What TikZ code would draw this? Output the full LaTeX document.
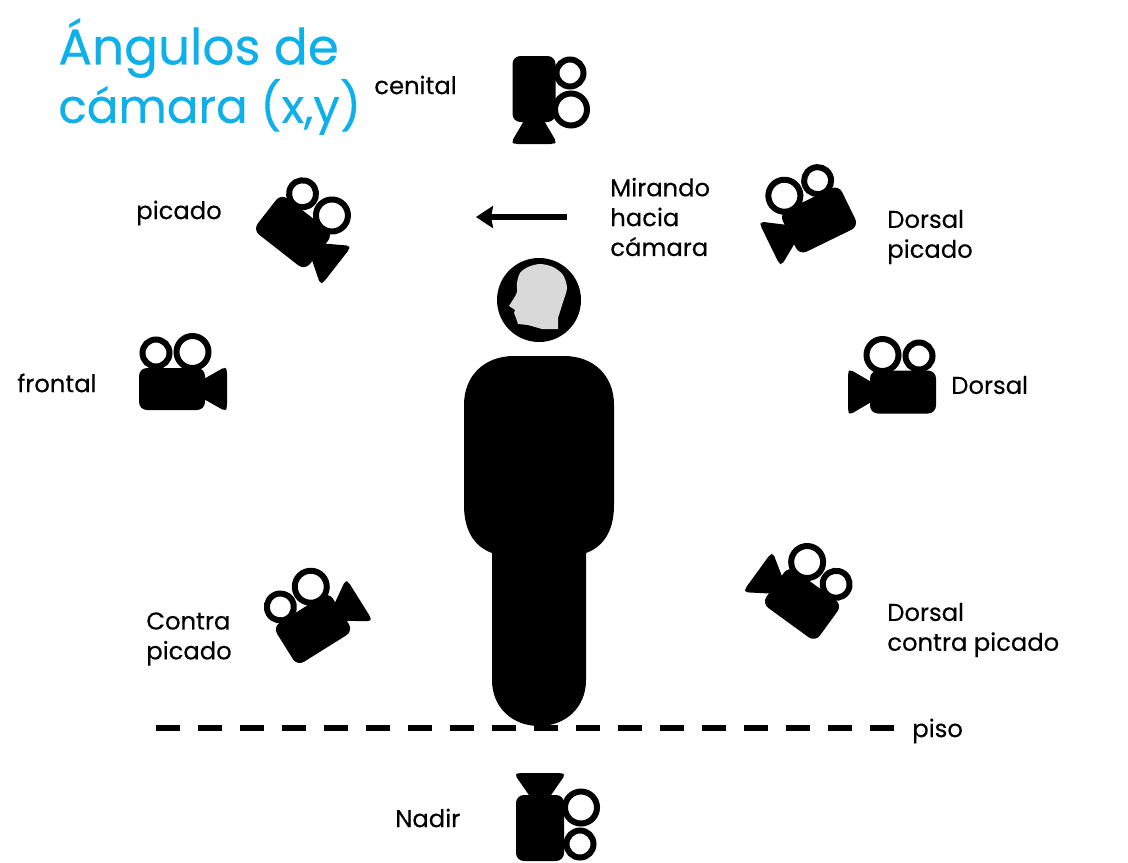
\documentclass[tikz,border=0pt]{standalone}
\usepackage{fontspec}
\setmainfont{Poppins}[FakeBold=0.3]
\usetikzlibrary{arrows.meta}

\begin{document}
\begin{tikzpicture}[
    x=0.02cm, y=-0.02cm,
    label/.style={inner sep=0pt, anchor=west, align=left, font=\fontsize{13.8}{17}\selectfont},
    heading/.style={inner sep=0pt, anchor=west, align=left, text=titleblue},
    camera/.pic={
        \draw[line width=0.12cm, fill=white] (-16,-36-\rise) circle (13.5);
        \draw[line width=0.12cm, fill=white] (20.5,-37-\rise) circle (16);
        \fill[rounded corners=0.16cm] (-33,-\hh) rectangle (33,\hh);
        \fill[rounded corners=0.06cm] (30,-9) -- (53,-\hh-1) -- (55,-\hh+2) -- (55,\hh-2) -- (53,\hh+1) -- (30,9) -- cycle;
    }
]
\definecolor{titleblue}{HTML}{0DB0E8}
\useasboundingbox (0,0) rectangle (1128,862);

% Title
\node[heading, font=\fontsize{28.5}{34}\selectfont] (title1) at (58,48) {Ángulos de};
\node[heading, font=\fontsize{26.7}{34}\selectfont] (title2) at (58,107) {cámara (x,y)};

% Person
\fill (464,405) .. controls (464,375) and (485,356) .. (514,356) -- (564,356)
    .. controls (593,356) and (614,375) .. (614,405) -- (614,505)
    .. controls (614,535) and (600,548) .. (586,553) -- (586,680)
    .. controls (586,708) and (565,726) .. (539,726)
    .. controls (513,726) and (492,708) .. (492,680) -- (492,553)
    .. controls (478,548) and (464,535) .. (464,505) -- cycle;
\fill (539,300) circle (42);
\fill[gray!30] (558,329) -- plot[smooth] coordinates {(558,318) (563,302) (567,288) (563,275) (553,267)
    (540,264) (528,267) (520,273) (517,283) (517,292) (514,298) (509,306)}
    -- (515,310) -- (514,313) -- (516,318) -- (518,324) -- (528,325) -- (542,329) -- cycle;

% Cameras
\foreach \name/\x/\y/\ang/\flip/\hh/\rise in {cenital/534/89/-90/1/21.5/0, picado/293/232/-38/1/23/0, frontal/172/389/0/1/21/0,
    contra/313/629/32/1/23/0, nadir/540/828/-90/-1/24/4, dorsalpicado/819/220/26/-1/23/0, dorsal/903/392/0/-1/21.5/0,
    dorsalcontra/802/604/-36/-1/23/0} {
    \pic[rotate=\ang, xscale=\flip] (\name) at (\x,\y) {camera};
}

% Labels
\node[label] (lcenital) at (374,85) {cenital};
\node[label] (lpicado) at (136,213) {picado};
\node[label] (lfrontal) at (17,383) {frontal};
\node[label] (lcontra) at (146,639) {Contra\\picado};
\node[label] (lnadir) at (395,818) {Nadir};
\node[label] (lmirando) at (610,217) {Mirando\\hacia\\cámara};
\node[label] (ldorsalpicado) at (887,237) {Dorsal\\picado};
\node[label] (ldorsal) at (951,385) {Dorsal};
\node[label] (ldorsalcontra) at (887,630) {Dorsal\\contra picado};
\node[label] (lpiso) at (912,731) {piso};

% Arrow and floor
\coordinate (arrowstart) at (567,217);
\coordinate (arrowend) at (476,217);
\draw[line width=0.11cm, -{Stealth[length=0.34cm,width=0.44cm,inset=0.04cm]}] (arrowstart) -- (arrowend);
\coordinate (floorleft) at (156,728);
\coordinate (floorright) at (894,728);
\draw[line width=0.12cm, dash pattern=on 0.48cm off 0.36cm] (floorleft) -- (floorright);

\end{tikzpicture}
\end{document}
